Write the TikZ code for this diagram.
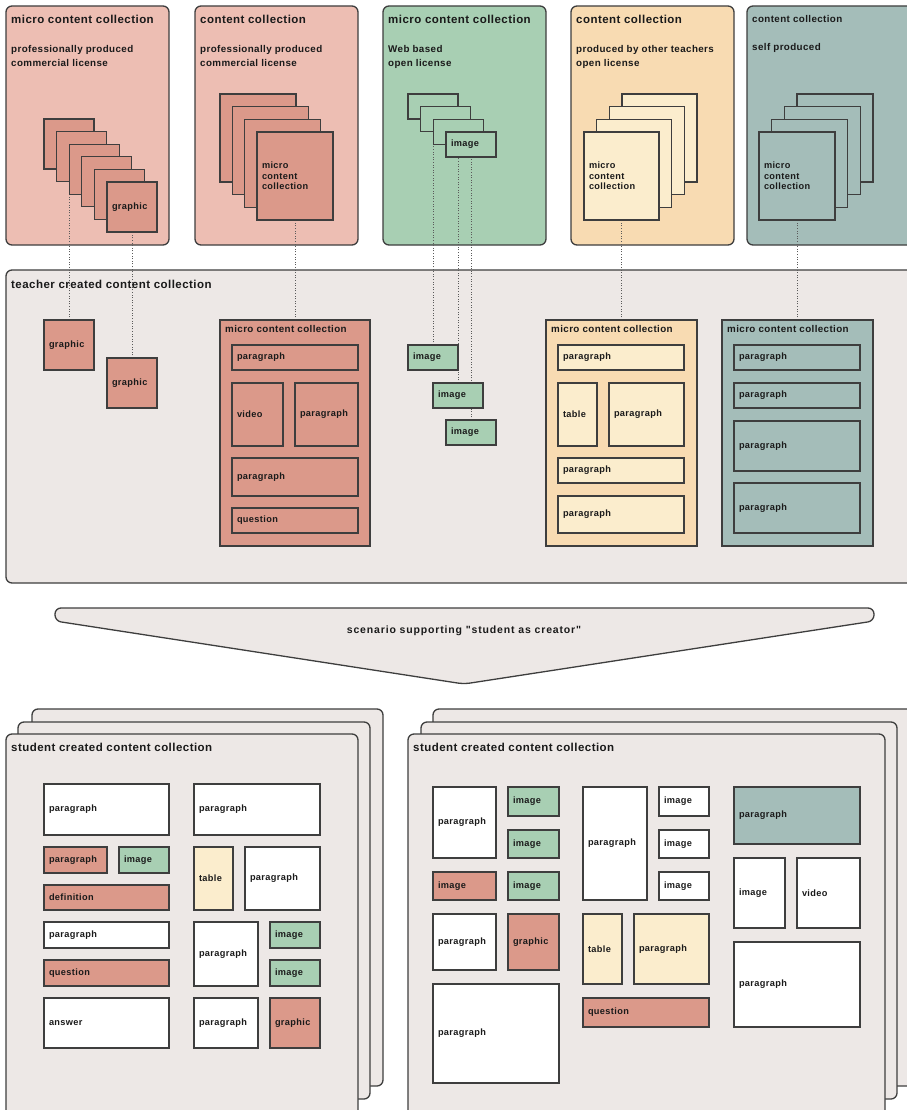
\documentclass[tikz,border=0pt]{standalone}
\usepackage{fontspec}
\setmainfont{Liberation Sans}[LetterSpace=4, Ligatures=TeXOff]
\usepackage{xcolor}
\usepackage{tikz}
\usetikzlibrary{positioning, calc, backgrounds}
\pgfdeclarelayer{links}
\pgfsetlayers{background,links,main}
\definecolor{redBg}{HTML}{EDBEB3}
\definecolor{redBox}{HTML}{DB998A}
\definecolor{greenBg}{HTML}{A8CFB3}
\definecolor{orangeBg}{HTML}{F8DBB2}
\definecolor{yellowBox}{HTML}{FBEDCD}
\definecolor{tealBg}{HTML}{A4BDB9}
\definecolor{greyBg}{HTML}{EDE8E6}
\definecolor{lineDark}{HTML}{3E3E3E}
\definecolor{inkText}{HTML}{1A1A1A}

\newcommand{\ftitle}{\fontsize{11.5}{13}\selectfont\bfseries}
\newcommand{\fsub}{\fontsize{9.8}{14}\selectfont\bfseries}
\newcommand{\flbl}{\fontsize{9.2}{10.5}\selectfont\bfseries}
\newcommand{\fmcc}{\fontsize{9.8}{11}\selectfont\bfseries}

\tikzset{
  panel/.style={draw=lineDark, line width=1.3pt, rounded corners=6pt},
  card/.style={draw=lineDark, line width=1.1pt, rectangle, anchor=north west,
    inner xsep=5pt, inner ysep=0pt, outer sep=0pt, align=left, font=\flbl, text=inkText},
  ptitle/.style={anchor=west, inner sep=0pt, font=\ftitle, text=inkText},
  psub/.style={anchor=north west, inner sep=0pt, align=left, font=\fsub, text=inkText},
  mtitle/.style={anchor=west, inner sep=0pt, font=\fmcc, text=inkText},
  link/.style={draw=lineDark!85, line width=1pt, dash pattern=on 1pt off 1.6pt},
}

% box: [style]{name}{x}{y}{width}{height}{label}
\newcommand{\mblock}[7][]{%
  \pgfmathsetmacro{\tw}{#5-10}%
  \node[card, #1, minimum width=#5pt, minimum height=#6pt, text width=\tw pt] (#2) at (#3,#4) {#7};}

\begin{document}
\begin{tikzpicture}[x=1pt, y=-1pt]
  \useasboundingbox (0,0) rectangle (906,1110);

  % TOP: five source collections
  \begin{pgfonlayer}{background}
    \draw[panel, fill=redBg] (6,6) rectangle (169,245);
    \draw[panel, fill=redBg] (195,6) rectangle (358,245);
    \draw[panel, fill=greenBg] (383,6) rectangle (546,245);
    \draw[panel, fill=orangeBg] (571,6) rectangle (734,245);
    \draw[panel, fill=tealBg] (747,6) rectangle (925,245);
    \draw[panel, fill=greyBg] (6,270) rectangle (925,583);
  \end{pgfonlayer}
  \node[ptitle] (t1) at (11,19) {micro content collection};
  \node[psub] (s1) at (11,45) {professionally produced\\commercial license};
  \node[ptitle] (t2) at (200,19) {content collection};
  \node[psub] (s2) at (200,45) {professionally produced\\commercial license};
  \node[ptitle] (t3) at (388,19) {micro content collection};
  \node[psub] (s3) at (388,45) {Web based\\open license};
  \node[ptitle] (t4) at (576,19) {content collection};
  \node[psub] (s4) at (576,45) {produced by other teachers\\open license};
  \node[ptitle, font=\fsub] (t5) at (752,19) {content collection};
  \node[psub] (s5) at (752,43) {self produced};

  \foreach \i in {0,...,4} {\mblock[fill=redBox]{ga\i}{44+12.6*\i}{119+12.6*\i}{50}{50}{}}
  \mblock[fill=redBox]{ga5}{107}{182}{50}{50}{graphic}
  \foreach \i in {0,1,2} {\mblock[fill=redBox]{gb\i}{220+12.4*\i}{94+12.6*\i}{76}{88}{}}
  \mblock[fill=redBox]{gb3}{257}{132}{76}{88}{micro\\content\\collection}
  \foreach \i in {0,1,2} {\mblock[fill=greenBg]{gc\i}{408+12.6*\i}{94+12.6*\i}{50}{25}{}}
  \mblock[fill=greenBg]{gc3}{446}{132}{50}{25}{image}
  \foreach \i in {0,1,2} {\mblock[fill=yellowBox]{gd\i}{622-12.6*\i}{94+12.6*\i}{75}{88}{}}
  \mblock[fill=yellowBox]{gd3}{584}{132}{75}{88}{micro\\content\\collection}
  \foreach \i in {0,1,2} {\mblock[fill=tealBg]{ge\i}{797-12.6*\i}{94+12.6*\i}{76}{88}{}}
  \mblock[fill=tealBg]{ge3}{759}{132}{76}{88}{micro\\content\\collection}

  % MIDDLE: teacher created collection
  \node[ptitle] (tt) at (11,284) {teacher created content collection};
  \mblock[fill=redBox]{tg1}{44}{320}{50}{50}{graphic}
  \mblock[fill=redBox]{tg2}{107}{358}{50}{50}{graphic}

  \mblock[fill=redBox]{mc1}{220}{320}{150}{226}{}
  \node[mtitle] (mc1t) at ([shift={(5,9)}]mc1.north west) {micro content collection};
  \foreach \nm/\x/\y/\w/\h/\t in {a/232/345/126/25/paragraph, b/232/383/51/63/video,
      c/295/383/63/63/paragraph, d/232/458/126/38/paragraph, e/232/508/126/25/question}
    {\mblock[fill=redBox]{mc1\nm}{\x}{\y}{\w}{\h}{\t}}

  \mblock[fill=greenBg]{ti1}{408}{345}{50}{25}{image}
  \mblock[fill=greenBg]{ti2}{433}{383}{50}{25}{image}
  \mblock[fill=greenBg]{ti3}{446}{420}{50}{25}{image}

  \mblock[fill=orangeBg]{mc3}{546}{320}{151}{226}{}
  \node[mtitle] (mc3t) at ([shift={(5,9)}]mc3.north west) {micro content collection};
  \foreach \nm/\x/\y/\w/\h/\t in {a/558/345/126/25/paragraph, b/558/383/39/63/table,
      c/609/383/75/63/paragraph, d/558/458/126/25/paragraph, e/558/496/126/37/paragraph}
    {\mblock[fill=yellowBox]{mc3\nm}{\x}{\y}{\w}{\h}{\t}}

  \mblock[fill=tealBg]{mc4}{722}{320}{151}{226}{}
  \node[mtitle] (mc4t) at ([shift={(5,9)}]mc4.north west) {micro content collection};
  \foreach \nm/\x/\y/\w/\h in {a/734/345/126/25, b/734/383/126/25,
      c/734/421/126/50, d/734/483/126/50}
    {\mblock[fill=tealBg]{mc4\nm}{\x}{\y}{\w}{\h}{paragraph}}

  % dotted links from sources to teacher collection
  \begin{pgfonlayer}{links}
    \draw[link] (tg1.north) -- (tg1.north |- ga2.south);
    \draw[link] (tg2.north) -- (ga5.south);
    \draw[link] (mc1.north) -- (mc1.north |- gb3.south);
    \draw[link] (ti1.north) -- (ti1.north |- gc2.south);
    \draw[link] (ti2.north) -- (ti2.north |- gc3.south);
    \draw[link] (ti3.north) -- (ti3.north |- gc3.south);
    \draw[link] (mc3.north) -- (mc3.north |- gd3.south);
    \draw[link] (mc4.north) -- (mc4.north |- ge3.south);
  \end{pgfonlayer}

  % scenario arrow
  \draw[panel, fill=greyBg] (464,684) -- (55,621) -- (55,608) -- (874,608) -- (874,621) -- cycle;
  \node[font=\fontsize{10.5}{12}\selectfont\bfseries\addfontfeatures{LetterSpace=8}, text=inkText]
    (scen) at (464,631) {scenario supporting "student as creator"};

  % BOTTOM: student created collections (stacked pages)
  \draw[panel, fill=greyBg] (32,709) rectangle (383,1086);
  \draw[panel, fill=greyBg] (18,722) rectangle (370,1099);
  \draw[panel, fill=greyBg] (6,734) rectangle (358,1130);
  \draw[panel, fill=greyBg] (433,709) rectangle (925,1086);
  \draw[panel, fill=greyBg] (421,722) rectangle (897,1099);
  \draw[panel, fill=greyBg] (408,734) rectangle (885,1130);
  \node[ptitle] (sl) at (11,747) {student created content collection};
  \node[ptitle] (sr) at (413,747) {student created content collection};

  \foreach \nm/\x/\y/\w/\h/\c/\t in {a/44/784/125/51/white/paragraph, b/194/784/126/51/white/paragraph,
      c/44/847/63/26/redBox/paragraph, d/119/847/50/26/greenBg/image, e/44/885/125/25/redBox/definition,
      f/194/847/39/63/yellowBox/table, g/245/847/75/63/white/paragraph, h/44/922/125/26/white/paragraph,
      i/44/960/125/26/redBox/question, j/44/998/125/50/white/answer, k/194/922/64/64/white/paragraph,
      l/270/922/50/26/greenBg/image, m/270/960/50/26/greenBg/image, n/194/998/64/50/white/paragraph,
      o/270/998/50/50/redBox/graphic}
    {\mblock[fill=\c]{sl\nm}{\x}{\y}{\w}{\h}{\t}}

  \foreach \nm/\x/\y/\w/\h/\c/\t in {a/433/787/63/71/white/paragraph, b/508/787/51/29/greenBg/image,
      c/508/830/51/28/greenBg/image, d/433/872/63/28/redBox/image, e/508/872/51/28/greenBg/image,
      f/433/914/63/56/white/paragraph, g/508/914/51/56/redBox/graphic, h/433/984/126/99/white/paragraph,
      i/583/787/64/113/white/paragraph, j/659/787/50/29/white/image, k/659/830/50/28/white/image,
      l/659/872/50/28/white/image, m/583/914/39/70/yellowBox/table, n/634/914/75/70/yellowBox/paragraph,
      o/583/998/126/29/redBox/question, p/734/787/126/57/tealBg/paragraph, q/734/858/51/70/white/image,
      r/797/858/63/70/white/video, s/734/942/126/85/white/paragraph}
    {\mblock[fill=\c]{sr\nm}{\x}{\y}{\w}{\h}{\t}}
\end{tikzpicture}
\end{document}
